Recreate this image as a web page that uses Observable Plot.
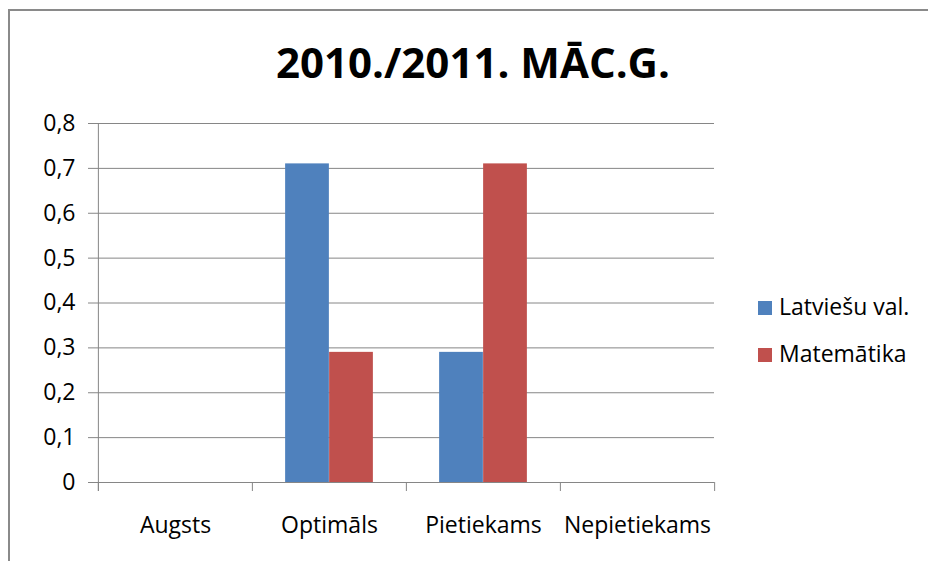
<!DOCTYPE html>
<html>
<head>
<meta charset="utf-8">
<script src="https://cdn.jsdelivr.net/npm/d3@7"></script>
<script src="https://cdn.jsdelivr.net/npm/@observablehq/plot@0.6"></script>
<style>
  html, body { margin: 0; padding: 0; background: #fff; }
  #wrap { position: relative; width: 928px; height: 561px; overflow: hidden; font-family: "Open Sans", sans-serif; color: #000; }
  #border { position: absolute; left: 8px; top: 9px; width: 940px; height: 600px; border-top: 2px solid #8a8a8a; border-left: 2px solid #8a8a8a; }
  #title { position: absolute; left: 9px; top: 40px; width: 928px; text-align: center; font-weight: 700; font-size: 42px; line-height: 43px; }
  #chart { position: absolute; left: 0; top: 100px; }
  .lg { position: absolute; font-size: 23px; line-height: 23px; white-space: nowrap; }
  .sw { position: absolute; width: 14px; height: 14px; }
</style>
</head>
<body>
<div id="wrap">
  <div id="border"></div>
  <div id="title"></div>
  <div id="chart"></div>
  <div id="legend"></div>
</div>
<script>
const chartTitle = "2010./2011. MĀC.G.";
const categories = ["Augsts", "Optimāls", "Pietiekams", "Nepietiekams"];
const seriesNames = ["Latviešu val.", "Matemātika"];
const latviesuVal = [0, 0.71, 0.29, 0];
const matematika = [0, 0.29, 0.71, 0];
const yTicks = [0, 0.1, 0.2, 0.3, 0.4, 0.5, 0.6, 0.7, 0.8];
const seriesColors = ["#4F81BD", "#C0504D"];

document.getElementById("title").textContent = chartTitle;

const data = categories.flatMap((c, i) => [
  {category: c, series: seriesNames[0], value: latviesuVal[i]},
  {category: c, series: seriesNames[1], value: matematika[i]}
]);

const W = 928, H = 461;
const mL = 97, mR = 214, mT = 23, mB = 79;
const step = (W - mL - mR) / categories.length;
const barW = 44;
const gridColor = "#868686";

const plot = Plot.plot({
  width: W,
  height: H,
  marginLeft: mL,
  marginRight: mR,
  marginTop: mT,
  marginBottom: mB,
  style: {fontFamily: "Open Sans", fontSize: "23px", color: "#000", background: "transparent"},
  x: {domain: categories, padding: 0},
  y: {domain: [0, 0.8]},
  color: {domain: seriesNames, range: seriesColors},
  marks: [
    Plot.ruleY(yTicks, {stroke: gridColor, strokeWidth: 1}),
    Plot.barY(data.filter(d => d.series === seriesNames[0]), {
      x: "category", y: "value", fill: "series",
      insetLeft: step / 2 - barW, insetRight: step / 2
    }),
    Plot.barY(data.filter(d => d.series === seriesNames[1]), {
      x: "category", y: "value", fill: "series",
      insetLeft: step / 2, insetRight: step / 2 - barW
    }),
    Plot.ruleX([categories[0]], {x: d => d, dx: -step / 2, stroke: gridColor, insetBottom: -9}),
    Plot.ruleX(categories, {x: d => d, dx: -step / 2, y1: 0, y2: 0, stroke: gridColor, insetBottom: -9}),
    Plot.ruleX([categories[categories.length - 1]], {x: d => d, dx: step / 2, y1: 0, y2: 0, stroke: gridColor, insetBottom: -9}),
    Plot.axisY({
      ticks: yTicks, tickSize: 9, tickPadding: 13, stroke: gridColor, fill: "#000",
      tickFormat: d => String(d).replace(".", ","), label: null, fontSize: 23
    }),
    Plot.axisX({tickSize: 0, tickPadding: 34, label: null, fill: "#000", fontSize: 23})
  ]
});
document.getElementById("chart").appendChild(plot);

const legend = document.getElementById("legend");
const rowTops = [295, 342];
seriesNames.forEach((s, i) => {
  const sw = document.createElement("div");
  sw.className = "sw";
  sw.style.left = "758px";
  sw.style.top = (rowTops[i] + 6) + "px";
  sw.style.background = seriesColors[i];
  legend.appendChild(sw);
  const t = document.createElement("div");
  t.className = "lg";
  t.style.left = "779px";
  t.style.top = rowTops[i] + "px";
  t.textContent = s;
  legend.appendChild(t);
});
</script>
</body>
</html>
